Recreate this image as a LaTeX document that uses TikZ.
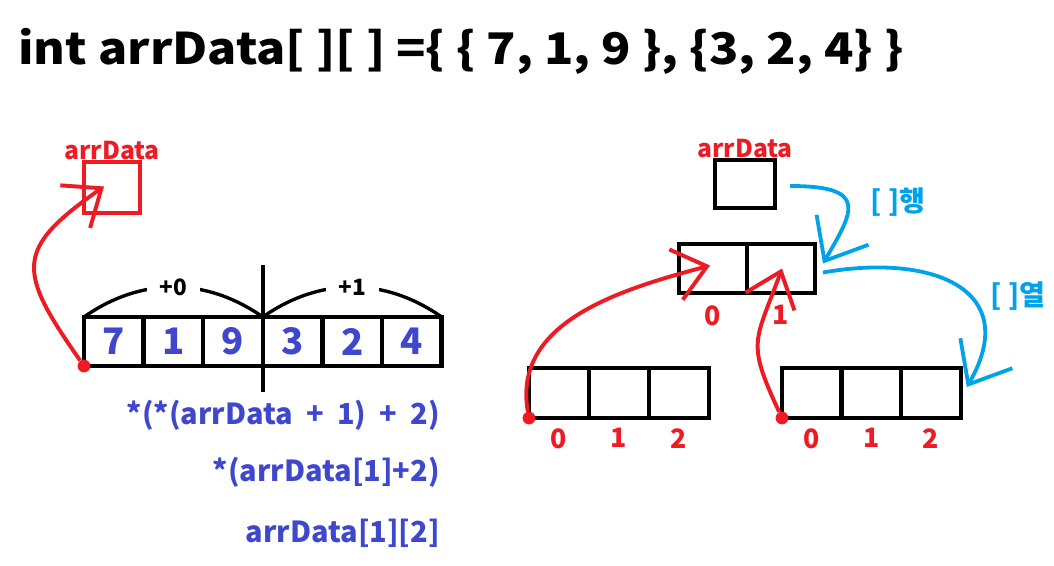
\documentclass[tikz,border=0pt]{standalone}
\usepackage{fontspec}
\setmainfont{Noto Sans CJK KR}
\usetikzlibrary{positioning}
\usetikzlibrary{calc}
\usetikzlibrary{arrows.meta}
\definecolor{ptred}{HTML}{ED1C24}
\definecolor{ptblue}{HTML}{3F48CC}
\definecolor{ptsky}{HTML}{00A2E8}
\tikzset{
    cell/.style={draw, line width=3.2pt, inner sep=0pt, outer sep=0pt, minimum width=1.49cm, minimum height=1.225cm, text=ptblue, font=\bfseries\fontsize{26}{26}\selectfont},
    slot/.style={draw, line width=3.2pt, inner sep=0pt, outer sep=0pt, minimum width=1.5cm, minimum height=1.25cm},
    idx/.style={text=ptred, font=\bfseries\fontsize{19}{19}\selectfont, inner sep=0pt},
    varname/.style={text=ptred, font=\bfseries\fontsize{17.5}{17.5}\selectfont, inner sep=1pt},
    expr/.style={text=ptblue, font=\bfseries\fontsize{20.6}{20.6}\selectfont, anchor=base east, inner sep=0pt},
    offs/.style={fill=white, font=\bfseries\fontsize{16}{16}\selectfont, inner xsep=9pt, inner ysep=1pt},
    dot/.style={circle, fill=ptred, inner sep=0pt, minimum size=0.32cm},
    redarrow/.style={draw=ptred, line width=2.8pt, -{Straight Barb[length=0.8cm, width=1.3cm]}},
    bluearrow/.style={draw=ptsky, line width=2.7pt, -{Straight Barb[length=0.9cm, width=1.5cm]}},
    dimlabel/.style={text=ptsky, font=\bfseries\fontsize{20}{20}\selectfont, inner sep=0pt},
}
\begin{document}
\begin{tikzpicture}[x=0.025cm, y=0.025cm]
    \useasboundingbox (0,0) rectangle (1054,566);

    % declaration
    \node[anchor=base west, inner sep=0pt, xscale=1.11, font=\bfseries\fontsize{31}{31}\selectfont] (decl) at (18,501) {int arrData[ ][ ] =\{ \{ 7, 1, 9 \}, \{3, 2, 4\} \}};

    % left: pointer and flat memory
    \node[slot, draw=ptred, minimum width=1.4cm, minimum height=1.275cm] (pL) at (112,378.5) {};
    \node[varname, above=0pt of pL] (pLname) {arrData};

    \node[cell] (c1) at (113.8,224.5) {7};
    \foreach \v/\i/\j in {1/2/1, 9/3/2, 3/4/3, 2/5/4, 4/6/5}
        \node[cell, right=0pt of c\j] (c\i) {\v};

    \draw[line width=3.2pt] ($(c3.north east)+(0,52)$) -- ($(c3.south east)+(0,-26)$);
    \draw[line width=2.4pt] (c1.north west) to[out=35, in=145] node[offs] {+0} (c3.north east);
    \draw[line width=2.4pt] (c3.north east) to[out=35, in=145] node[offs] {+1} (c6.north east);

    \node[dot] (dL) at (c1.south west) {};
    \coordinate (tL) at ($(pL.west)+(20,1)$);
    \draw[redarrow] (dL) to[out=125, in=215, looseness=1.6] (tL);

    \node[expr] (e1) at (440,141) {*(*(arrData\ \ +\ \ 1)\ \ +\ \ 2)};
    \node[expr] (e2) at (440,84) {*(arrData[1]+2)};
    \node[expr] (e3) at (440,23) {arrData[1][2]};

    % right: pointer, rows, elements
    \node[slot, minimum height=1.2cm] (ptr) at (745,382) {};
    \node[varname, above=0pt of ptr] (ptrname) {arrData};

    \node[slot, minimum width=1.7cm, minimum height=1.225cm] (r0) at (713,297.5) {};
    \node[slot, minimum width=1.7cm, minimum height=1.225cm, right=0pt of r0] (r1) {};
    \node[idx, below=0.3cm of r0] (ri0) {0};
    \node[idx, below=0.3cm of r1] (ri1) {1};

    \node[slot] (a0) at (559,173) {};
    \node[slot, right=0pt of a0] (a1) {};
    \node[slot, right=0pt of a1] (a2) {};
    \node[slot, minimum width=1.49cm] (b0) at (811.8,173) {};
    \node[slot, minimum width=1.49cm, right=0pt of b0] (b1) {};
    \node[slot, minimum width=1.49cm, right=0pt of b1] (b2) {};
    \foreach \k in {0,1,2} {
        \node[idx, below=0.25cm of a\k] (ai\k) {\k};
        \node[idx, below=0.25cm of b\k] (bi\k) {\k};
    }

    \node[dot] (d0) at (a0.south west) {};
    \node[dot] (d1) at (b0.south west) {};
    \coordinate (t0) at ($(r0.center)+(-3,3)$);
    \coordinate (t1) at ($(r1.center)+(1,0)$);
    \draw[redarrow] (d0) to[out=100, in=195] (t0);
    \draw[redarrow] (d1) to[out=115, in=250, looseness=1.4] (t1);

    \coordinate (s0) at ($(ptr.east)+(15,-2)$);
    \coordinate (u0) at ($(r1.east)+(8,5)$);
    \coordinate (s1) at ($(r1.east)+(8,-4)$);
    \coordinate (u1) at ($(b2.east)+(6,6)$);
    \draw[bluearrow] (s0) to[out=0, in=60, out distance=2cm, in distance=1.5cm] (u0);
    \draw[bluearrow] (s1) to[out=10, in=60, out distance=2.8cm, in distance=2.8cm] (u1);
    \node[dimlabel] (rowlab) at (898,364) {[ ]행};
    \node[dimlabel] (collab) at (1018,270) {[ ]열};
\end{tikzpicture}
\end{document}
